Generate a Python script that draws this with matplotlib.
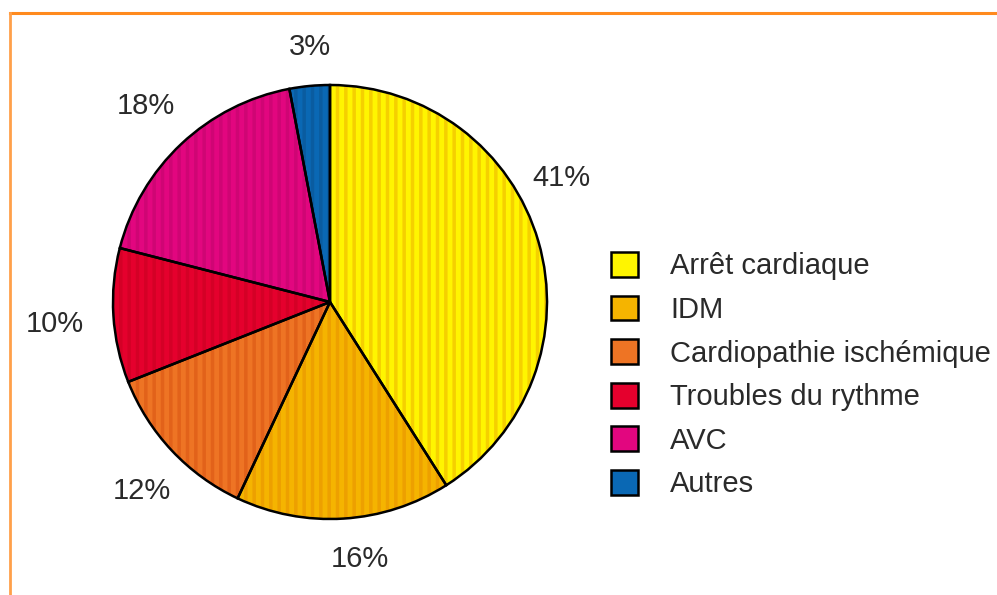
import numpy as np
import matplotlib.pyplot as plt
from matplotlib.lines import Line2D
from matplotlib.patches import Patch

# data
categories = ['Arrêt cardiaque', 'IDM', 'Cardiopathie ischémique',
              'Troubles du rythme', 'AVC', 'Autres']
shares = [41, 16, 12, 10, 18, 3]
pct_labels = ['41%', '16%', '12%', '10%', '18%', '3%']

colors = ['#FFF500', '#F5B400', '#EE7424', '#E5002D', '#E2067F', '#0A68B4']
stripes = ['#F5D000', '#EDA000', '#E2621A', '#D40026', '#CF0574', '#0A5CA0']
label_nudge = [12, 3, 2, 1, 0, -1]      # degrees, hand placed like the original
label_rad = [1.21, 1.19, 1.23, 1.27, 1.24, 1.18]

plt.rcParams['font.family'] = ['Liberation Sans', 'DejaVu Sans']
plt.rcParams['hatch.linewidth'] = 2.5
txt_col = '#2a2a2a'
fs = 21

W, H = 997, 595
fig = plt.figure(figsize=(W / 100, H / 100), dpi=100)
ax = fig.add_axes([0, 0, 1, 1])

cx, cy, R = 330, H - 302, 217

# striped fill, then black outlines on top
wedges, _ = ax.pie(shares, colors=colors, startangle=90, counterclock=False,
                   center=(cx, cy), radius=R, frame=True,
                   wedgeprops=dict(linewidth=0, hatch='||'))
for w, s in zip(wedges, stripes):
    w.set_edgecolor(s)
outline, _ = ax.pie(shares, colors=['none'] * len(shares), startangle=90,
                    counterclock=False, center=(cx, cy), radius=R, frame=True,
                    wedgeprops=dict(linewidth=1.8, edgecolor='black'))
ax.set_xlim(0, W)
ax.set_ylim(0, H)
ax.set_aspect('equal')
ax.axis('off')

for w, lab, dn, rr in zip(wedges, pct_labels, label_nudge, label_rad):
    mid = np.deg2rad((w.theta1 + w.theta2) / 2 + dn)
    ax.text(cx + rr * R * np.cos(mid), cy + rr * R * np.sin(mid), lab,
            ha='center', va='center', fontsize=fs, color=txt_col)

handles = [Patch(facecolor=c, edgecolor='black', linewidth=1.8) for c in colors]
leg = ax.legend(handles, categories, loc='upper left',
                bbox_to_anchor=(611 / W, 1 - 252 / H), bbox_transform=fig.transFigure,
                frameon=False, fontsize=fs, handlelength=0.93, handleheight=0.93,
                handletextpad=1.1, labelspacing=0.52, borderpad=0, borderaxespad=0)
for t in leg.get_texts():
    t.set_color(txt_col)

# orange frame lines (top and left)
fig.add_artist(Line2D([9.5 / W, 1], [1 - 12.5 / H, 1 - 12.5 / H],
                      transform=fig.transFigure, color='#FF8A1E', linewidth=2.2))
fig.add_artist(Line2D([9.5 / W, 9.5 / W], [0, 1 - 12.5 / H],
                      transform=fig.transFigure, color='#FFA04A', linewidth=2.0))

fig.savefig('out.png', dpi=100)
